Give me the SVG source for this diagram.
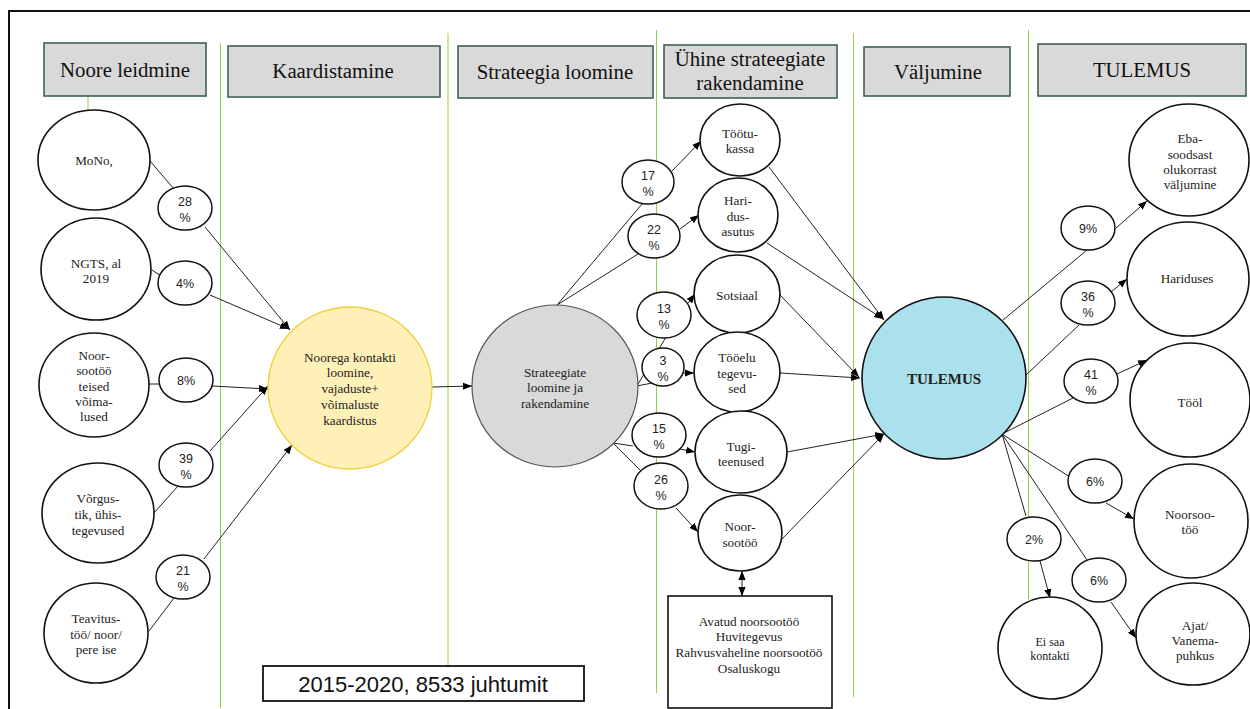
<svg xmlns="http://www.w3.org/2000/svg" width="1250" height="709" viewBox="0 0 1250 709">
<defs>
<marker id="ah" viewBox="0 0 10 10" refX="10" refY="5" markerWidth="9" markerHeight="9" markerUnits="userSpaceOnUse" orient="auto-start-reverse"><path d="M0,1 L10,5 L0,9 z" fill="#000"/></marker>
<style>
.hdr rect{fill:#d9d9d9;stroke:#3e6150;stroke-width:1.6}
.hdr text{font-family:"Liberation Serif","Times New Roman",serif;font-size:20.8px;fill:#111;text-anchor:middle}
.gl{stroke:#92d050;stroke-width:1;fill:none}
.n ellipse{fill:#fff;stroke:#111;stroke-width:1.6}
.n text{font-family:"Liberation Serif","Times New Roman",serif;font-size:13.2px;fill:#222;text-anchor:middle}
.p ellipse{fill:#fff;stroke:#111;stroke-width:1.5}
.p text{font-family:"Liberation Sans",Arial,sans-serif;font-size:12.5px;fill:#222;text-anchor:middle}
.c path{stroke:#222;stroke-width:1;fill:none}
.c path.a{marker-end:url(#ah)}
.sans{font-family:"Liberation Sans",Arial,sans-serif}
</style>
</defs>
<rect x="0" y="0" width="1250" height="709" fill="#fff"/>
<path d="M9,709 V11 H1250" fill="none" stroke="#111" stroke-width="2"/>

<g id="swimlanes">
<path class="gl" d="M220.5,43 V708"/>
<path class="gl" d="M448,33 V666"/>
<path class="gl" d="M656.5,30 V693"/>
<path class="gl" d="M853.5,33 V697"/>
<path class="gl" d="M1028.5,30 V600"/>
<path class="gl" d="M88,96 V110" stroke-width="1.5"/>
</g>

<g id="headers" class="hdr">
<g id="h1"><rect x="44" y="43" width="162" height="53"/><text x="125" y="77">Noore leidmine</text></g>
<g id="h2"><rect x="228" y="46" width="212" height="51"/><text x="333" y="78">Kaardistamine</text></g>
<g id="h3"><rect x="458" y="46" width="195" height="52"/><text x="555" y="79">Strateegia loomine</text></g>
<g id="h4"><rect x="664" y="45" width="173" height="53"/><text x="750" y="66">Ühine strateegiate</text><text x="750" y="90">rakendamine</text></g>
<g id="h5"><rect x="864" y="47" width="146" height="49"/><text x="938" y="79">Väljumine</text></g>
<g id="h6"><rect x="1038" y="44" width="208" height="52"/><text x="1142" y="77">TULEMUS</text></g>
</g>

<g id="connectors" class="c">
<path d="M150,161 L174,189"/>
<path class="a" d="M205,227 L290,330"/>
<path d="M152,270 L161,276"/>
<path class="a" d="M210,295 L289,329"/>
<path d="M149,384 L159,384"/>
<path class="a" d="M212,386 L268,389"/>
<path d="M154,513 L178,486"/>
<path class="a" d="M210,451 L268,386"/>
<path d="M149,631 L174,598"/>
<path class="a" d="M204,559 L292,445"/>
<path class="a" d="M432,387 L472,386"/>
<path d="M557,305 L642,204"/>
<path class="a" d="M672,171 L701,141"/>
<path d="M557,305 L638,254"/>
<path class="a" d="M680,229 L699,215"/>
<path d="M637,386 L666,337"/>
<path d="M637,386 L652,383"/>
<path class="a" d="M688,303 L695,294"/>
<path class="a" d="M683,373 L694,373"/>
<path d="M613,443 L633,446"/>
<path class="a" d="M680,449 L695,452"/>
<path d="M613,443 L641,471"/>
<path class="a" d="M676,508 L698,532"/>
<path style="marker-start:url(#ah);marker-end:url(#ah)" d="M742,571 V596"/>
<path class="a" d="M769,167 L884,320"/>
<path class="a" d="M767,243 L883,319"/>
<path class="a" d="M780,295 L859,377"/>
<path class="a" d="M780,373 L860,378"/>
<path class="a" d="M787,452 L884,434"/>
<path class="a" d="M781,540 L884,434"/>
<path d="M1003,320 L1087,250"/>
<path class="a" d="M1116,228 L1147,201"/>
<path d="M1025,376 L1079,325"/>
<path class="a" d="M1111,292 L1127,279"/>
<path d="M1002,434 L1073,398"/>
<path class="a" d="M1117,374 L1147,360"/>
<path d="M1002,434 L1070,477"/>
<path class="a" d="M1106,503 L1134,519"/>
<path d="M1002,434 L1026,516"/>
<path class="a" d="M1040,561 L1050,598"/>
<path d="M1002,434 L1087,560"/>
<path class="a" d="M1111,602 L1136,638"/>
</g>

<g id="sources" class="n">
<g id="n-mono"><ellipse cx="94" cy="160" rx="56" ry="50"/><text x="94" y="165">MoNo,</text></g>
<g id="n-ngts"><ellipse cx="96" cy="269" rx="55" ry="51"/><text x="96" y="268">NGTS, al</text><text x="96" y="283">2019</text></g>
<g id="n-noorsootoo"><ellipse cx="94" cy="385" rx="55" ry="52"/><text x="94" y="360">Noor-</text><text x="94" y="375">sootöö</text><text x="94" y="391">teised</text><text x="94" y="406">võima-</text><text x="94" y="421">lused</text></g>
<g id="n-vorgustik"><ellipse cx="98" cy="513" rx="56" ry="50"/><text x="98" y="503">Võrgus-</text><text x="98" y="519">tik, ühis-</text><text x="98" y="535">tegevused</text></g>
<g id="n-teavitus"><ellipse cx="96" cy="633" rx="52" ry="50"/><text x="96" y="623">Teavitus-</text><text x="96" y="639">töö/ noor/</text><text x="96" y="654">pere ise</text></g>
</g>

<g id="pct" class="p">
<g id="p28"><ellipse cx="185" cy="208" rx="27" ry="22"/><text x="185" y="206">28</text><text x="185" y="222">%</text></g>
<g id="p4"><ellipse cx="185" cy="283" rx="27" ry="22"/><text x="185" y="288">4%</text></g>
<g id="p8"><ellipse cx="186" cy="380" rx="27" ry="22"/><text x="186" y="385">8%</text></g>
<g id="p39"><ellipse cx="186" cy="465" rx="27" ry="22"/><text x="186" y="463">39</text><text x="186" y="479">%</text></g>
<g id="p21"><ellipse cx="183" cy="577" rx="27" ry="22"/><text x="183" y="575">21</text><text x="183" y="591">%</text></g>
<g id="p17"><ellipse cx="648" cy="182" rx="26" ry="22"/><text x="648" y="180">17</text><text x="648" y="196">%</text></g>
<g id="p22"><ellipse cx="654" cy="236" rx="26" ry="22"/><text x="654" y="234">22</text><text x="654" y="250">%</text></g>
<g id="p13"><ellipse cx="664" cy="315" rx="27" ry="23"/><text x="664" y="313">13</text><text x="664" y="329">%</text></g>
<g id="p3"><ellipse cx="663" cy="367" rx="21" ry="19"/><text x="663" y="365">3</text><text x="663" y="381">%</text></g>
<g id="p15"><ellipse cx="659" cy="435" rx="27" ry="22"/><text x="659" y="433">15</text><text x="659" y="449">%</text></g>
<g id="p26"><ellipse cx="661" cy="486" rx="27" ry="23"/><text x="661" y="484">26</text><text x="661" y="500">%</text></g>
<g id="p9"><ellipse cx="1088" cy="228" rx="27" ry="22"/><text x="1088" y="233">9%</text></g>
<g id="p36"><ellipse cx="1088" cy="303" rx="27" ry="22"/><text x="1088" y="301">36</text><text x="1088" y="317">%</text></g>
<g id="p41"><ellipse cx="1091" cy="381" rx="27" ry="22"/><text x="1091" y="379">41</text><text x="1091" y="395">%</text></g>
<g id="p6a"><ellipse cx="1095" cy="481" rx="27" ry="22"/><text x="1095" y="486">6%</text></g>
<g id="p2"><ellipse cx="1034" cy="539" rx="27" ry="22"/><text x="1034" y="544">2%</text></g>
<g id="p6b"><ellipse cx="1099" cy="580" rx="27" ry="22"/><text x="1099" y="585">6%</text></g>
</g>

<g id="n-kontakt" class="n"><ellipse cx="350" cy="388" rx="82" ry="81" style="fill:#fff0b8;stroke:#f0cf3a;stroke-width:1.3"/><text x="350" y="362">Noorega kontakti</text><text x="350" y="377">loomine,</text><text x="350" y="393">vajaduste+</text><text x="350" y="409">võimaluste</text><text x="350" y="425">kaardistus</text></g>

<g id="n-strateegia" class="n"><ellipse cx="555" cy="386" rx="83" ry="81" style="fill:#d9d9d9;stroke:#555;stroke-width:1.2"/><text x="555" y="377">Strateegiate</text><text x="555" y="392">loomine ja</text><text x="555" y="408">rakendamine</text></g>

<g id="partners" class="n">
<g id="n-tootukassa"><ellipse cx="740" cy="140" rx="40" ry="36"/><text x="740" y="138">Töötu-</text><text x="740" y="153">kassa</text></g>
<g id="n-haridusasutus"><ellipse cx="738" cy="215" rx="40" ry="37"/><text x="738" y="205">Hari-</text><text x="738" y="221">dus-</text><text x="738" y="236">asutus</text></g>
<g id="n-sotsiaal"><ellipse cx="737" cy="294" rx="43" ry="39"/><text x="737" y="300">Sotsiaal</text></g>
<g id="n-tooelu"><ellipse cx="737" cy="372" rx="43" ry="40"/><text x="737" y="362">Tööelu</text><text x="737" y="378">tegevu-</text><text x="737" y="393">sed</text></g>
<g id="n-tugi"><ellipse cx="741" cy="452" rx="46" ry="41"/><text x="741" y="451">Tugi-</text><text x="741" y="466">teenused</text></g>
<g id="n-noorsootoo2"><ellipse cx="740" cy="533" rx="42" ry="38"/><text x="740" y="531">Noor-</text><text x="740" y="547">sootöö</text></g>
</g>

<g id="n-list" class="n"><rect x="668" y="596" width="164" height="112" fill="#fff" stroke="#111" stroke-width="1.6"/><text x="749" y="626">Avatud noorsootöö</text><text x="749" y="641">Huvitegevus</text><text x="749" y="657">Rahvusvaheline noorsootöö</text><text x="749" y="673">Osaluskogu</text></g>

<g id="n-tulemus" class="n"><ellipse cx="944" cy="378" rx="82" ry="81" style="fill:#abe1ec;stroke:#111;stroke-width:1.6"/><text x="944" y="384" style="font-weight:bold;font-size:15px">TULEMUS</text></g>

<g id="outcomes" class="n">
<g id="n-eba"><ellipse cx="1189" cy="160" rx="60" ry="56"/><text x="1190" y="143">Eba-</text><text x="1190" y="159">soodsast</text><text x="1190" y="174">olukorrast</text><text x="1190" y="189">väljumine</text></g>
<g id="n-hariduses"><ellipse cx="1188" cy="279" rx="61" ry="57"/><text x="1187" y="283">Hariduses</text></g>
<g id="n-tool"><ellipse cx="1190" cy="400" rx="60" ry="57"/><text x="1190" y="407">Tööl</text></g>
<g id="n-noorsootoo3"><ellipse cx="1191" cy="521" rx="57" ry="57"/><text x="1190" y="519">Noorsoo-</text><text x="1190" y="534">töö</text></g>
<g id="n-eisaa"><ellipse cx="1050" cy="648" rx="52" ry="51"/><text x="1050" y="646" class="sans" style="font-size:12px">Ei saa</text><text x="1050" y="660" class="sans" style="font-size:12px">kontakti</text></g>
<g id="n-ajat"><ellipse cx="1193" cy="634" rx="57" ry="51"/><text x="1195" y="630">Ajat/</text><text x="1195" y="645">Vanema-</text><text x="1195" y="660">puhkus</text></g>
</g>

<g id="n-summary"><rect x="263" y="666" width="321" height="35" fill="#fff" stroke="#111" stroke-width="1.8"/><text x="423" y="692" class="sans" style="font-size:22px;text-anchor:middle;fill:#111">2015-2020, 8533 juhtumit</text></g>
</svg>
